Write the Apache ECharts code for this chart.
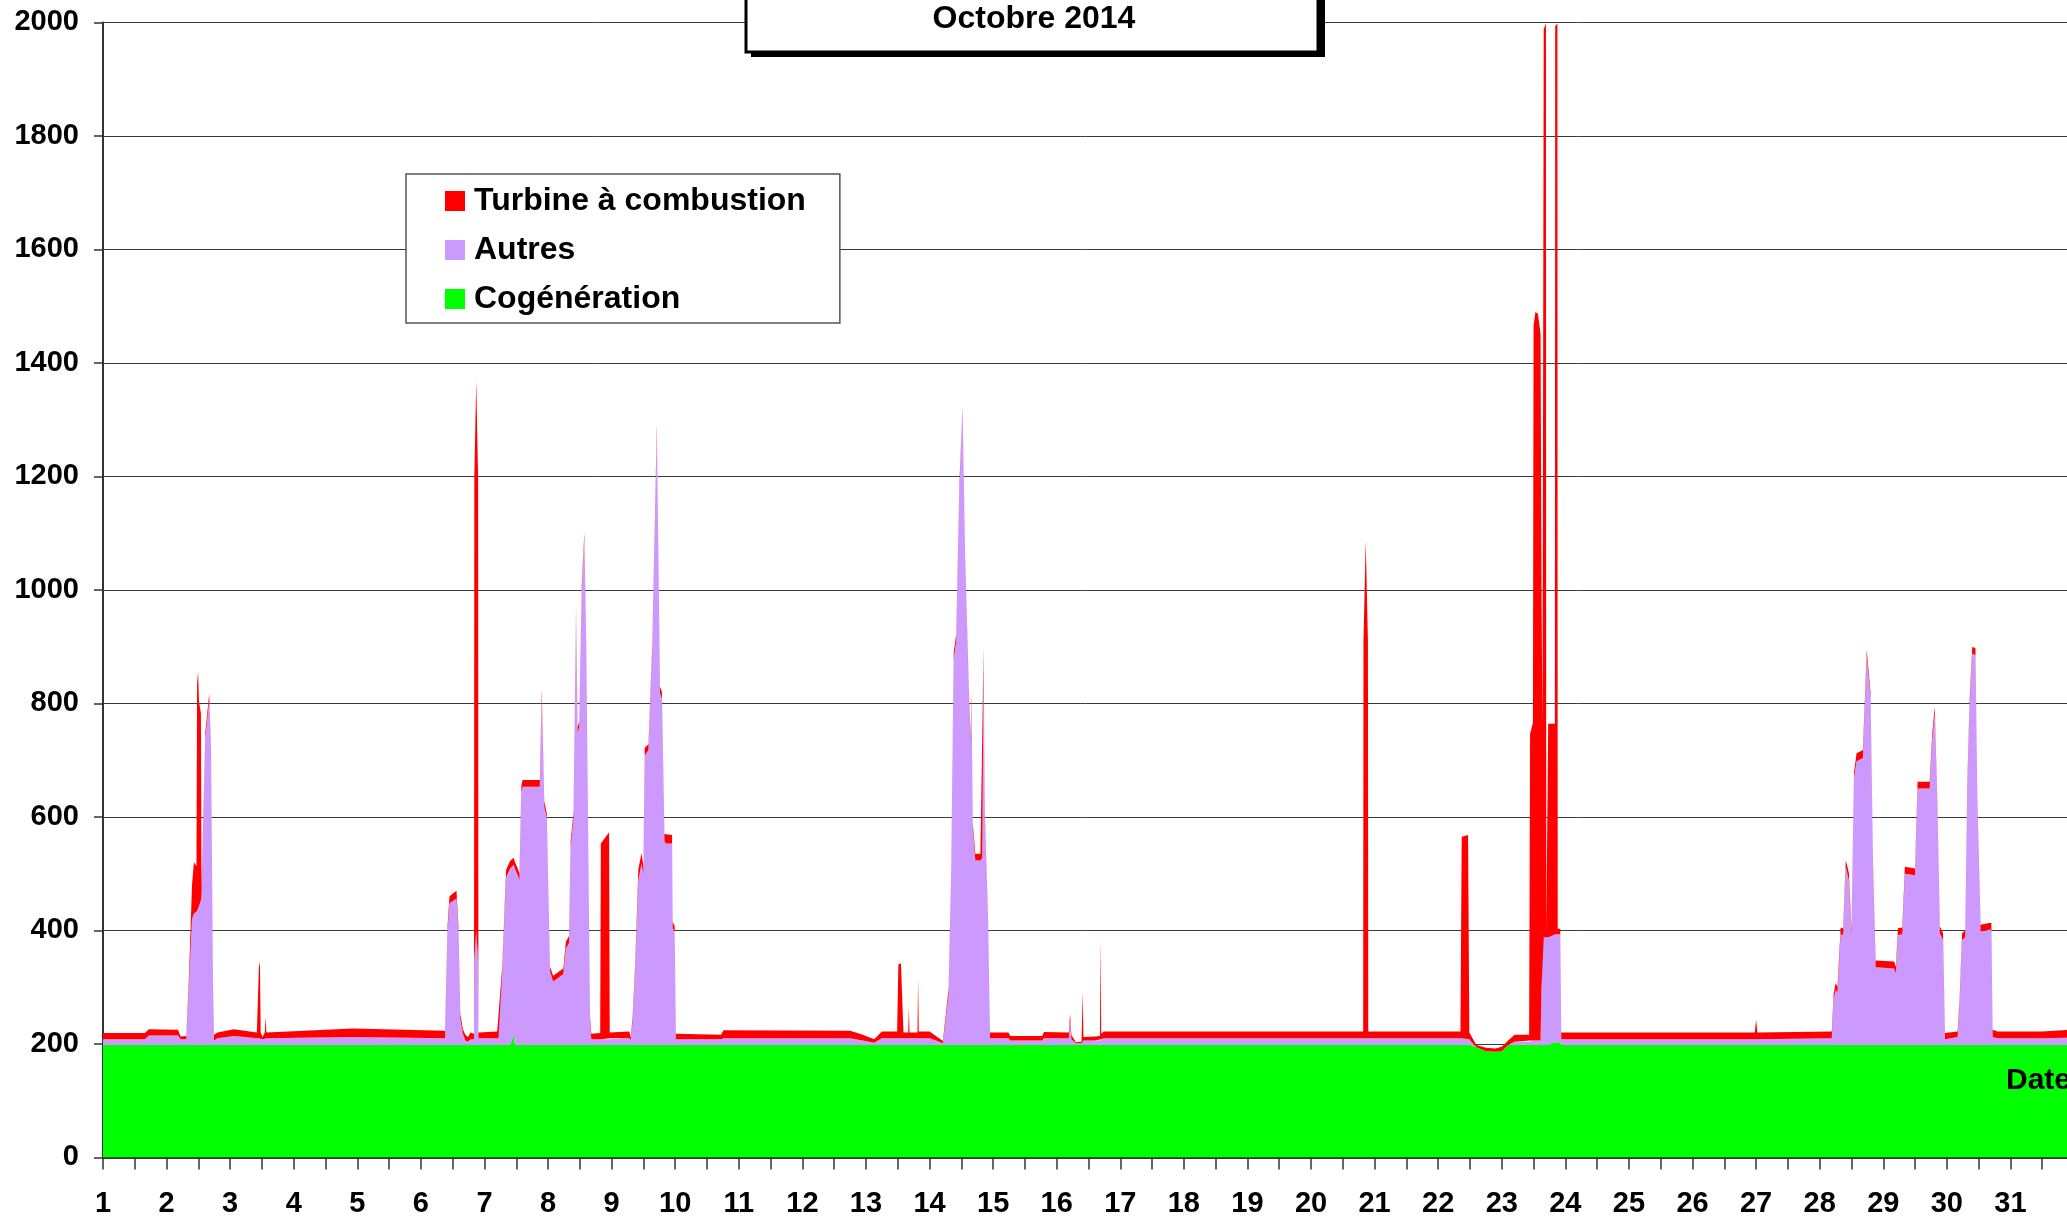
<!DOCTYPE html>
<html>
<head>
<meta charset="utf-8">
<script src="https://cdn.jsdelivr.net/npm/echarts@6/dist/echarts.min.js"></script>
<style>
  html, body { margin: 0; padding: 0; background: #fff; }
  #chart { width: 2067px; height: 1216px; }
</style>
</head>
<body>
<div id="chart"></div>
<script>
// jours du mois (1.0 = 1er octobre 0h)
var days = [
  1.00, 1.66, 1.72, 2.18, 2.22, 2.31, 2.35, 2.40, 2.43, 2.47,
  2.48, 2.495, 2.51, 2.54, 2.55, 2.61, 2.67, 2.70, 2.73, 2.745, 2.80,
  3.06, 3.42, 3.45, 3.455, 3.47, 3.48, 3.51, 3.545, 3.556, 3.57, 4.93,
  6.38, 6.42, 6.45, 6.56, 6.59, 6.62, 6.66, 6.70, 6.74, 6.78,
  6.835, 6.84, 6.87, 6.90, 6.905, 7.20, 7.22, 7.28, 7.34, 7.40,
  7.46, 7.48, 7.52, 7.55, 7.58, 7.60, 7.87, 7.90, 7.94, 7.98,
  8.03, 8.08, 8.24, 8.28, 8.33, 8.355, 8.40, 8.44, 8.465, 8.49,
  8.53, 8.57, 8.60, 8.66, 8.68, 8.82, 8.83, 8.96, 8.97, 9.28,
  9.30, 9.33, 9.37, 9.42, 9.47, 9.50, 9.52, 9.58, 9.64, 9.71,
  9.76, 9.79, 9.83, 9.85, 9.95, 9.96, 9.99, 10.01, 10.72, 10.76,
  12.75, 12.95, 13.13, 13.25, 13.49, 13.51, 13.55, 13.59, 13.665, 13.675,
  13.685, 13.81, 13.82, 13.83, 14.00, 14.10, 14.21, 14.24, 14.30, 14.34,
  14.38, 14.42, 14.47, 14.52, 14.56, 14.62, 14.645, 14.66, 14.68, 14.72,
  14.80, 14.83, 14.85, 14.87, 14.92, 14.95, 15.24, 15.27, 15.77, 15.80,
  16.19, 16.21, 16.23, 16.30, 16.39, 16.40, 16.41, 16.42, 16.60, 16.68,
  16.69, 16.70, 16.74, 20.82, 20.825, 20.86, 20.895, 20.90, 22.35, 22.37,
  22.47, 22.49, 22.52, 22.60, 22.75, 22.90, 23.00, 23.10, 23.20, 23.43,
  23.445, 23.49, 23.50, 23.53, 23.57, 23.61, 23.625, 23.64, 23.655, 23.66,
  23.695, 23.70, 23.725, 23.73, 23.835, 23.84, 23.875, 23.88, 23.92, 23.935,
  26.98, 27.00, 27.02,
  28.19, 28.22, 28.25, 28.28, 28.33, 28.37, 28.41, 28.46, 28.50, 28.54,
  28.58, 28.68, 28.74, 28.80, 28.84, 28.88, 29.17, 29.20, 29.23, 29.30,
  29.34, 29.50, 29.54, 29.73, 29.77, 29.81, 29.85, 29.89, 29.94, 29.97,
  30.17, 30.20, 30.24, 30.29, 30.32, 30.36, 30.40, 30.45, 30.48, 30.53,
  30.66, 30.70, 30.72, 30.80, 31.50, 31.95
];

var cogeneration = [
  198, 198, 198, 198, 198, 198, 198, 198, 198, 198,
  198, 198, 198, 198, 198, 198, 198, 198, 198, 198, 198,
  198, 198, 198, 198, 198, 198, 198, 198, 198, 198, 198,
  198, 198, 198, 198, 198, 198, 198, 198, 198, 198,
  198, 198, 198, 198, 198, 198, 198, 198, 198, 198,
  215, 198, 198, 198, 198, 198, 198, 198, 198, 198,
  198, 198, 198, 198, 198, 198, 198, 198, 198, 198,
  198, 198, 198, 198, 198, 198, 198, 198, 198, 198,
  198, 198, 198, 198, 198, 198, 198, 198, 198, 198,
  198, 198, 198, 198, 198, 198, 198, 198, 198, 198,
  198, 198, 198, 198, 198, 198, 198, 198, 198, 198,
  198, 198, 198, 198, 198, 198, 198, 198, 198, 198,
  198, 198, 198, 198, 198, 198, 198, 198, 198, 198,
  198, 198, 198, 198, 198, 198, 198, 198, 198, 198,
  198, 198, 198, 198, 198, 198, 198, 198, 198, 198,
  198, 198, 198, 198, 198, 198, 198, 198, 198, 198,
  198, 198, 198, 194, 187, 186, 187, 198, 198, 198,
  198, 198, 198, 198, 198, 198, 198, 198, 198, 198,
  198, 198, 198, 198, 203, 203, 203, 203, 203, 198,
  198, 198, 198,
  198, 198, 198, 198, 198, 198, 198, 198, 198, 198,
  198, 198, 198, 198, 198, 198, 198, 198, 198, 198,
  198, 198, 198, 198, 198, 198, 198, 198, 198, 198,
  198, 198, 198, 198, 198, 198, 198, 198, 198, 198,
  198, 198, 198, 198, 198, 198
];

var autres = [
  10, 10, 17, 17, 10, 10, 100, 222, 232, 235,
  238, 240, 245, 255, 265, 540, 607, 500, 100, 8, 12,
  16, 12, 12, 12, 12, 12, 10, 12, 12, 12, 14,
  12, 200, 250, 258, 200, 45, 20, 8, 6, 10,
  10, 150, 200, 150, 12, 12, 12, 130, 295, 310,
  301, 310, 300, 290, 445, 455, 455, 615, 420, 400,
  130, 112, 125, 170, 180, 348, 400, 762, 550, 560,
  800, 892, 700, 40, 10, 10, 10, 10, 12, 12,
  8, 40, 130, 290, 320, 300, 510, 520, 700, 1083,
  620, 610, 360, 355, 355, 205, 200, 10, 10, 12,
  12, 8, 4, 12, 12, 12, 12, 12, 12, 12,
  12, 12, 12, 12, 12, 8, 3, 30, 90, 295,
  680, 712, 980, 1128, 850, 610, 532, 610, 380, 325,
  325, 330, 690, 400, 207, 12, 12, 8, 8, 12,
  12, 45, 10, 3, 3, 5, 8, 8, 8, 8,
  10, 10, 12, 12, 12, 12, 12, 12, 12, 12,
  12, 10, 6, 0, 0, 0, 0, 0, 6, 6,
  8, 8, 8, 8, 8, 8, 100, 190, 190, 190,
  190, 190, 190, 190, 190, 190, 190, 190, 190, 10,
  10, 10, 10,
  12, 80, 97, 92, 195, 194, 314, 290, 193, 470,
  500, 506, 685, 610, 304, 137, 135, 126, 194, 195,
  302, 299, 452, 452, 537, 584, 420, 197, 185, 10,
  14, 70, 185, 190, 443, 600, 690, 687, 420, 200,
  203, 203, 14, 12, 12, 13
];

var turbine = [
  11, 11, 11, 10, 5, 6, 14, 60, 90, 80,
  400, 418, 360, 330, 12, 12, 12, 12, 10, 10, 10,
  12, 10, 10, 135, 125, 10, 4, 10, 38, 10, 15,
  13, 12, 12, 14, 10, 10, 8, 10, 8, 12,
  10, 850, 970, 850, 10, 12, 10, 10, 14, 14,
  12, 12, 12, 12, 12, 12, 12, 12, 10, 8,
  8, 10, 10, 12, 12, 12, 10, 10, 10, 10,
  10, 10, 10, 10, 10, 11, 345, 365, 10, 12,
  5, 10, 12, 20, 18, 14, 14, 10, 10, 10,
  12, 12, 12, 15, 15, 12, 10, 10, 8, 14,
  13, 10, 6, 12, 12, 130, 132, 10, 10, 55,
  10, 10, 106, 12, 12, 8, 4, 8, 10, 10,
  12, 12, 12, 0, 8, 10, 10, 10, 10, 12,
  12, 10, 10, 10, 12, 10, 10, 8, 8, 11,
  10, 10, 8, 2, 3, 4, 86, 6, 7, 8,
  178, 10, 12, 12, 700, 877, 700, 12, 12, 355,
  358, 12, 10, 4, 6, 6, 8, 8, 12, 12,
  540, 560, 1260, 1284, 1280, 1245, 700, 370, 370, 1600,
  1610, 10, 10, 376, 371, 1600, 1605, 10, 10, 12,
  12, 35, 12,
  12, 10, 12, 11, 12, 12, 12, 13, 10, 10,
  14, 14, 11, 10, 10, 12, 12, 12, 12, 12,
  12, 12, 12, 12, 12, 12, 12, 12, 12, 11,
  10, 10, 12, 12, 12, 12, 12, 12, 12, 12,
  12, 12, 13, 12, 12, 14
];

var yTicks = [0, 200, 400, 600, 800, 1000, 1200, 1400, 1600, 1800, 2000];
var legendNames = ['Turbine à combustion', 'Autres', 'Cogénération'];

var FONT = '"Liberation Sans", Arial, Helvetica, sans-serif';

// valeur en premier pour que l'empilement se fasse sur l'axe y
function pairs(arr) {
  return days.map(function (d, i) { return [arr[i], d]; });
}

function areaSerie(name, color, arr) {
  return {
    name: name,
    type: 'line',
    stack: 'total',
    symbol: 'none',
    showSymbol: false,
    encode: { x: 1, y: 0 },
    lineStyle: { width: 0, color: color },
    itemStyle: { color: color },
    areaStyle: { color: color, opacity: 1 },
    data: pairs(arr)
  };
}

var chart = echarts.init(document.getElementById('chart'), null, { renderer: 'canvas' });
chart.setOption({
  animation: false,
  backgroundColor: '#fff',
  color: ['#00ff00', '#cc99ff', '#ff0000'],
  grid: { left: 103, top: 22.4, width: 1971, height: 1135, outerBoundsMode: 'none', containLabel: false },
  legend: {
    data: legendNames,
    orient: 'vertical',
    left: 406,
    top: 174,
    icon: 'rect',
    itemWidth: 20,
    itemHeight: 20,
    itemGap: 17,
    padding: [11, 34, 8, 39],
    borderColor: '#555',
    borderWidth: 1.5,
    backgroundColor: '#fff',
    selectedMode: false,
    textStyle: {
      fontFamily: FONT, fontSize: 32, fontWeight: 'bold', color: '#000',
      lineHeight: 32, padding: [0, 0, 0, 4]
    }
  },
  xAxis: {
    type: 'value',
    min: 1,
    max: 32,
    interval: 1,
    axisLine: { lineStyle: { color: '#333', width: 2 } },
    axisTick: { length: 12, lineStyle: { color: '#333', width: 1.5 } },
    minorTick: { show: true, splitNumber: 2, length: 12, lineStyle: { color: '#333', width: 1.5 } },
    splitLine: { show: false },
    axisLabel: {
      margin: 32, fontSize: 29, fontWeight: 'bold', color: '#000', fontFamily: FONT,
      formatter: function (v) { return v < 32 ? String(v) : ''; }
    }
  },
  yAxis: {
    type: 'value',
    min: yTicks[0],
    max: yTicks[yTicks.length - 1],
    interval: 200,
    axisLine: { show: true, lineStyle: { color: '#333', width: 2 } },
    axisTick: { show: true, length: 9, lineStyle: { color: '#333', width: 1.5 } },
    splitLine: { lineStyle: { color: '#3a3a3a', width: 1 } },
    axisLabel: {
      margin: 24, fontSize: 29, fontWeight: 'bold', color: '#000', fontFamily: FONT,
      formatter: function (v) { return String(v); }
    }
  },
  graphic: [
    // cadre du titre avec ombre
    { type: 'rect', z: 100, shape: { x: 751, y: -10, width: 574, height: 67 }, style: { fill: '#000' } },
    { type: 'rect', z: 101, shape: { x: 746, y: -10, width: 572, height: 62 }, style: { fill: '#fff', stroke: '#000', lineWidth: 3 } },
    { type: 'text', z: 102, x: 1034, y: 19,
      style: { text: 'Octobre 2014', textAlign: 'center', textVerticalAlign: 'middle',
               font: 'bold 32px ' + FONT, fill: '#000' } },
    { type: 'text', z: 102, x: 2006, y: 1081,
      style: { text: 'Date', textAlign: 'left', textVerticalAlign: 'middle',
               font: 'bold 30px ' + FONT, fill: '#000' } }
  ],
  series: [
    areaSerie('Cogénération', '#00ff00', cogeneration),
    areaSerie('Autres', '#cc99ff', autres),
    areaSerie('Turbine à combustion', '#ff0000', turbine)
  ]
});
</script>
</body>
</html>
